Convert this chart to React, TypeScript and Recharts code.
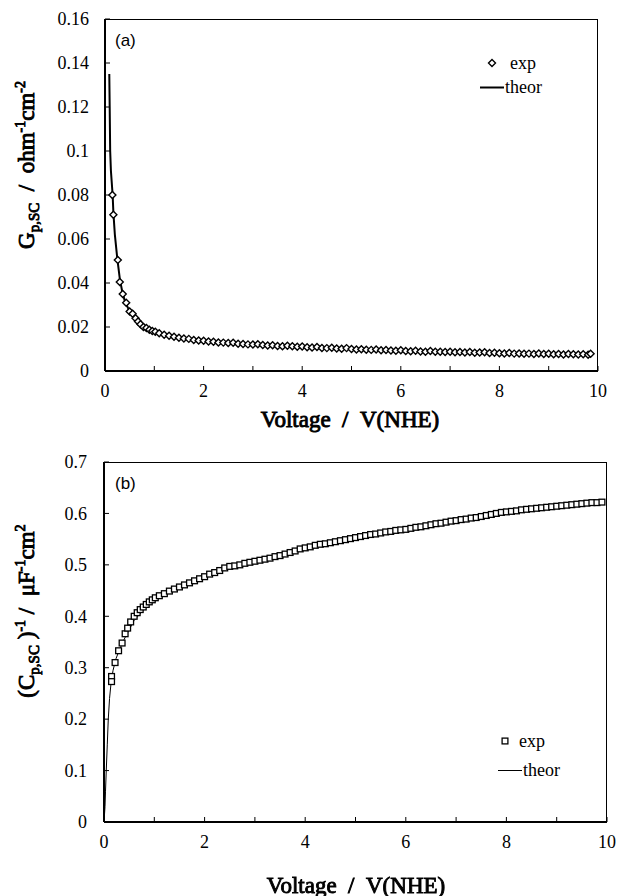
import React from 'react';
import { ScatterChart, Scatter, XAxis, YAxis } from 'recharts';

// ---------- Panel (a): G_p,SC ----------
const expA_V = [0.15, 0.17, 0.26, 0.30, 0.36, 0.43, 0.50, 0.56, 0.62, 0.67, 0.72, 0.78, 0.84, 0.90, 0.96, 1.02, 1.1, 1.2, 1.3, 1.4, 1.5, 1.6, 1.7, 1.8, 1.9, 2.0, 2.1, 2.2, 2.3, 2.4, 2.5, 2.6, 2.7, 2.8, 2.9, 3.0, 3.1, 3.2, 3.3, 3.4, 3.5, 3.6, 3.7, 3.8, 3.9, 4.0, 4.1, 4.2, 4.3, 4.4, 4.5, 4.6, 4.7, 4.8, 4.9, 5.0, 5.1, 5.2, 5.3, 5.4, 5.5, 5.6, 5.7, 5.8, 5.9, 6.0, 6.1, 6.2, 6.3, 6.4, 6.5, 6.6, 6.7, 6.8, 6.9, 7.0, 7.1, 7.2, 7.3, 7.4, 7.5, 7.6, 7.7, 7.8, 7.9, 8.0, 8.1, 8.2, 8.3, 8.4, 8.5, 8.6, 8.7, 8.8, 8.9, 9.0, 9.1, 9.2, 9.3, 9.4, 9.5, 9.6, 9.7, 9.8, 9.85];
const expA_G = [0.080, 0.071, 0.0505, 0.0405, 0.035, 0.031, 0.027, 0.026, 0.024, 0.0225, 0.0212, 0.020, 0.0195, 0.0188, 0.0182, 0.0178, 0.0172, 0.0165, 0.016, 0.0156, 0.0151, 0.0148, 0.0146, 0.0141, 0.0139, 0.0137, 0.0134, 0.0133, 0.0130, 0.0129, 0.0127, 0.0128, 0.0124, 0.0123, 0.0121, 0.0120, 0.0122, 0.0118, 0.0116, 0.0117, 0.0114, 0.0113, 0.0115, 0.0112, 0.0110, 0.0111, 0.0108, 0.0107, 0.0109, 0.0105, 0.0104, 0.0106, 0.0102, 0.0101, 0.0104, 0.0100, 0.0098, 0.0099, 0.0097, 0.0096, 0.0098, 0.0094, 0.0095, 0.0093, 0.0092, 0.0094, 0.0091, 0.0090, 0.0092, 0.0089, 0.0088, 0.0091, 0.0087, 0.0088, 0.0086, 0.0087, 0.0085, 0.0086, 0.0084, 0.0086, 0.0083, 0.0084, 0.0085, 0.0082, 0.0083, 0.0081, 0.0080, 0.0082, 0.0079, 0.0080, 0.0078, 0.0079, 0.0077, 0.0080, 0.0077, 0.0078, 0.0076, 0.0077, 0.0075, 0.0077, 0.0076, 0.0075, 0.0076, 0.0074, 0.0078];

const theorA_V = [0.087, 0.095, 0.105, 0.12, 0.155, 0.17, 0.2, 0.25, 0.3, 0.35, 0.4, 0.5, 0.6, 0.7, 0.8, 1.0, 1.25, 1.5, 2.0, 2.5, 3.0, 4.0, 5.0, 6.0, 7.0, 8.0, 9.0, 9.85];
const theorA_G = [0.135, 0.12, 0.10, 0.091, 0.080, 0.072, 0.062, 0.051, 0.042, 0.036, 0.032, 0.027, 0.024, 0.0215, 0.0198, 0.0178, 0.016, 0.015, 0.0135, 0.0126, 0.012, 0.011, 0.0101, 0.0093, 0.0088, 0.0083, 0.0079, 0.0076];

const ticksA_Y = [0, 0.02, 0.04, 0.06, 0.08, 0.1, 0.12, 0.14, 0.16];

// ---------- Panel (b): (C_p,SC)^-1 ----------
const expB_V = [0.15, 0.15, 0.22, 0.29, 0.36, 0.42, 0.47, 0.53, 0.6, 0.66, 0.72, 0.78, 0.84, 0.9, 0.96, 1.02, 1.1, 1.2, 1.3, 1.4, 1.5, 1.6, 1.7, 1.8, 1.9, 2.0, 2.1, 2.2, 2.3, 2.4, 2.5, 2.6, 2.7, 2.8, 2.9, 3.0, 3.1, 3.2, 3.3, 3.4, 3.5, 3.6, 3.7, 3.8, 3.9, 4.0, 4.1, 4.2, 4.3, 4.4, 4.5, 4.6, 4.7, 4.8, 4.9, 5.0, 5.1, 5.2, 5.3, 5.4, 5.5, 5.6, 5.7, 5.8, 5.9, 6.0, 6.1, 6.2, 6.3, 6.4, 6.5, 6.6, 6.7, 6.8, 6.9, 7.0, 7.1, 7.2, 7.3, 7.4, 7.5, 7.6, 7.7, 7.8, 7.9, 8.0, 8.1, 8.2, 8.3, 8.4, 8.5, 8.6, 8.7, 8.8, 8.9, 9.0, 9.1, 9.2, 9.3, 9.4, 9.5, 9.6, 9.7, 9.8, 9.9];
const expB_C = [0.283, 0.273, 0.31, 0.333, 0.348, 0.366, 0.377, 0.389, 0.40, 0.407, 0.413, 0.418, 0.423, 0.428, 0.432, 0.436, 0.440, 0.444, 0.449, 0.453, 0.457, 0.461, 0.465, 0.469, 0.473, 0.477, 0.482, 0.485, 0.489, 0.494, 0.497, 0.498, 0.500, 0.503, 0.505, 0.507, 0.509, 0.511, 0.513, 0.516, 0.518, 0.521, 0.524, 0.527, 0.531, 0.533, 0.535, 0.538, 0.540, 0.541, 0.543, 0.545, 0.547, 0.549, 0.551, 0.553, 0.555, 0.557, 0.559, 0.560, 0.562, 0.564, 0.565, 0.567, 0.568, 0.569, 0.571, 0.573, 0.574, 0.576, 0.578, 0.580, 0.581, 0.583, 0.585, 0.586, 0.588, 0.589, 0.591, 0.592, 0.594, 0.596, 0.598, 0.600, 0.602, 0.603, 0.604, 0.605, 0.607, 0.608, 0.609, 0.610, 0.611, 0.612, 0.613, 0.614, 0.615, 0.616, 0.617, 0.618, 0.619, 0.620, 0.621, 0.621, 0.622];

const theorB_V = [0.0, 0.02, 0.03, 0.045, 0.065, 0.085, 0.11, 0.14, 0.18, 0.24, 0.3, 0.4, 0.5, 0.6, 0.8, 1.0, 1.25, 1.5, 2.0, 2.5, 3.0, 3.5, 4.0, 4.5, 5.0, 5.5, 6.0, 6.5, 7.0, 7.5, 8.0, 8.5, 9.0, 9.5, 9.9];
const theorB_C = [0.0, 0.03, 0.06, 0.1, 0.15, 0.2, 0.24, 0.27, 0.295, 0.318, 0.333, 0.355, 0.374, 0.392, 0.414, 0.432, 0.446, 0.458, 0.477, 0.494, 0.507, 0.519, 0.533, 0.543, 0.553, 0.562, 0.570, 0.578, 0.586, 0.595, 0.603, 0.609, 0.614, 0.618, 0.622];

const ticksB_Y = [0, 0.1, 0.2, 0.3, 0.4, 0.5, 0.6, 0.7];
const ticksX = [0, 1, 2, 3, 4, 5, 6, 7, 8, 9, 10];

const zip = (xs: number[], ys: number[]) => xs.map((x, i) => ({ x, y: ys[i] }));

const expA = zip(expA_V, expA_G);
const theorA = zip(theorA_V, theorA_G);
const expB = zip(expB_V, expB_C);
const theorB = zip(theorB_V, theorB_C);

const SERIF = "'Liberation Serif', 'Times New Roman', Times, serif";
const SANS = "'Liberation Sans', Arial, sans-serif";

const YTick = (props: any) => {
  const { x, y, payload } = props;
  return (
    <text x={x} y={y} dy="0.35em" textAnchor="end" fontFamily={SERIF} fontSize={18} fill="#000" style={{ fontFamily: SERIF }}>
      {String(payload.value)}
    </text>
  );
};

const XTick = (props: any) => {
  const { x, y, payload } = props;
  const v = payload.value;
  if (v % 2 !== 0) return <g />;
  return (
    <text x={x} y={y} dy="0.75em" textAnchor="middle" fontFamily={SERIF} fontSize={18} fill="#000" style={{ fontFamily: SERIF }}>
      {String(v)}
    </text>
  );
};

const Diamond = (props: any) => {
  const { cx, cy } = props;
  if (cx == null || cy == null) return <g />;
  const r = 3.5;
  return (
    <path
      d={`M${cx},${cy - r}L${cx + r},${cy}L${cx},${cy + r}L${cx - r},${cy}Z`}
      fill="#fff"
      stroke="#000"
      strokeWidth={1.4}
    />
  );
};

const Square = (props: any) => {
  const { cx, cy } = props;
  if (cx == null || cy == null) return <g />;
  const r = 2.9;
  return <rect x={cx - r} y={cy - r} width={2 * r} height={2 * r} fill="#fff" stroke="#000" strokeWidth={1.3} />;
};

const NoShape = () => <g />;

const abs = (left: number, top: number, extra: React.CSSProperties = {}): React.CSSProperties => ({
  position: 'absolute',
  left,
  top,
  whiteSpace: 'nowrap',
  ...extra,
});

const boldSerif: React.CSSProperties = {
  fontFamily: SERIF,
  fontSize: 23,
  fontWeight: 'normal',
  WebkitTextStroke: '0.9px #000',
  lineHeight: 1,
};

const axisProps = {
  tickSize: -5,
  axisLine: { stroke: '#000', strokeWidth: 2 },
  tickLine: { stroke: '#000', strokeWidth: 1 },
  interval: 0 as const,
};

export default function App() {
  return (
    <div style={{ position: 'fixed', left: 8, top: 8, width: 612, height: 888, background: '#fff' }}>
      {/* Panel (a) */}
      <div style={abs(0, 0)}>
        <ScatterChart width={612} height={420} margin={{ top: 11, right: 22, left: 0, bottom: 27 }}>
          <XAxis type="number" dataKey="x" domain={[0, 10]} ticks={ticksX} height={30} tickMargin={17} tick={XTick} {...axisProps} />
          <YAxis type="number" dataKey="y" domain={[0, 0.16]} ticks={ticksA_Y} width={97} tickMargin={21} tick={YTick} {...axisProps} />
          <Scatter data={theorA} line={{ stroke: '#000', strokeWidth: 2 }} shape={NoShape} isAnimationActive={false} />
          <Scatter data={expA} shape={Diamond} isAnimationActive={false} />
        </ScatterChart>
      </div>
      <div style={abs(97, 11, { width: 493, height: 352, border: '1.5px solid #000', boxSizing: 'border-box', pointerEvents: 'none' })} />
      <div style={abs(107, 33, { fontFamily: SANS, fontSize: 17, transform: 'translateY(-50%)' })}>(a)</div>
      {/* legend a */}
      <svg style={abs(478, 49)} width={12} height={12}>
        <path d="M6,2.5L9.5,6L6,9.5L2.5,6Z" fill="#fff" stroke="#000" strokeWidth={1.4} />
      </svg>
      <div style={abs(502, 55, { fontFamily: SERIF, fontSize: 18, transform: 'translateY(-50%)' })}>exp</div>
      <svg style={abs(472, 78)} width={24} height={3}>
        <line x1={0} y1={1.5} x2={24} y2={1.5} stroke="#000" strokeWidth={2} />
      </svg>
      <div style={abs(497, 79, { fontFamily: SERIF, fontSize: 18, transform: 'translateY(-50%)' })}>theor</div>
      {/* axis titles a */}
      <div style={abs(342, 411, { ...boldSerif, transform: 'translate(-50%,-50%)' })}>
        Voltage&nbsp; / &nbsp;V(NHE)
      </div>
      <div style={abs(20, 157, { ...boldSerif, transform: 'translate(-50%,-50%) rotate(-90deg)' })}>
        G<sub style={{ fontSize: 15 }}>p,SC</sub>&nbsp; / &nbsp;ohm<sup style={{ fontSize: 14 }}>-1</sup>cm<sup style={{ fontSize: 14 }}>-2</sup>
      </div>

      {/* Panel (b) */}
      <div style={abs(0, 440)}>
        <ScatterChart width={612} height={440} margin={{ top: 14, right: 13, left: 0, bottom: 36 }}>
          <XAxis type="number" dataKey="x" domain={[0, 10]} ticks={ticksX} height={30} tickMargin={17} tick={XTick} {...axisProps} />
          <YAxis type="number" dataKey="y" domain={[0, 0.7]} ticks={ticksB_Y} width={96} tickMargin={22} tick={YTick} {...axisProps} />
          <Scatter data={theorB} line={{ stroke: '#000', strokeWidth: 1 }} shape={NoShape} isAnimationActive={false} />
          <Scatter data={expB} shape={Square} isAnimationActive={false} />
        </ScatterChart>
      </div>
      <div style={abs(96, 454, { width: 503, height: 360, border: '1.5px solid #000', boxSizing: 'border-box', pointerEvents: 'none' })} />
      <div style={abs(107, 476, { fontFamily: SANS, fontSize: 17, transform: 'translateY(-50%)' })}>(b)</div>
      {/* legend b */}
      <svg style={abs(491, 727)} width={12} height={12}>
        <rect x={3.1} y={3.1} width={5.8} height={5.8} fill="#fff" stroke="#000" strokeWidth={1.3} />
      </svg>
      <div style={abs(511, 733, { fontFamily: SERIF, fontSize: 18, transform: 'translateY(-50%)' })}>exp</div>
      <svg style={abs(490, 761)} width={24} height={3}>
        <line x1={0} y1={1.5} x2={24} y2={1.5} stroke="#000" strokeWidth={1} />
      </svg>
      <div style={abs(515, 762, { fontFamily: SERIF, fontSize: 18, transform: 'translateY(-50%)' })}>theor</div>
      {/* axis titles b */}
      <div style={abs(348, 877, { ...boldSerif, transform: 'translate(-50%,-50%)' })}>
        Voltage&nbsp; / &nbsp;V(NHE)
      </div>
      <div style={abs(20, 603, { ...boldSerif, transform: 'translate(-50%,-50%) rotate(-90deg)' })}>
        (C<sub style={{ fontSize: 15 }}>p,SC</sub> )<sup style={{ fontSize: 14 }}>-1</sup> / &nbsp;μF<sup style={{ fontSize: 14 }}>-1</sup>cm<sup style={{ fontSize: 14 }}>2</sup>
      </div>
    </div>
  );
}
